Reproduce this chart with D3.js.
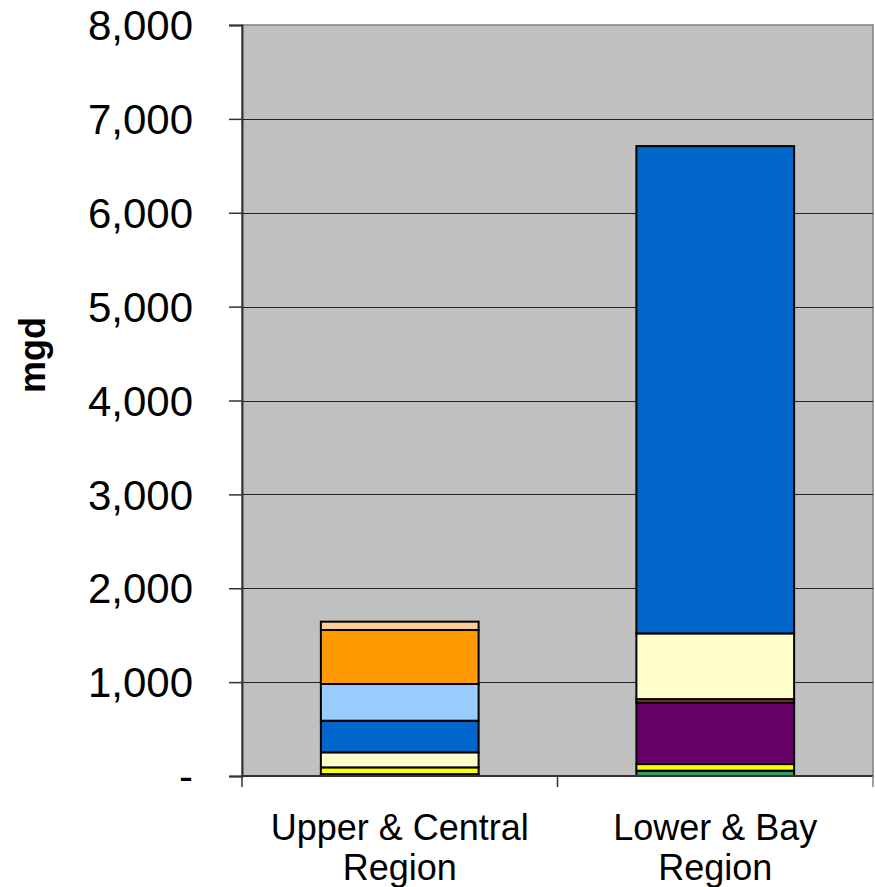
<!DOCTYPE html>
<html>
<head>
<meta charset="utf-8">
<script src="https://cdn.jsdelivr.net/npm/d3@7"></script>
<style>
  html, body { margin: 0; padding: 0; background: #fff; }
  svg { display: block; font-family: "Liberation Sans", Arial, sans-serif; }
</style>
</head>
<body>
<div id="chart"></div>
<script>
// categories (two lines per label)
const categories = ["Upper & Central Region", "Lower & Bay Region"];
const categoryLines = [["Upper & Central", "Region"], ["Lower & Bay", "Region"]];

// stacked series, bottom to top
const seriesNames = ["Series 1", "Series 2", "Series 3", "Series 4", "Series 5",
                     "Series 6", "Series 7", "Series 8", "Series 9"];
const seriesColors = ["#339966", "#ffff00", "#660066", "#993333", "#ffffcc",
                      "#0066cc", "#99ccff", "#ff9900", "#ffcc99"];
const upperValues = [20, 72, 0, 0, 160, 337, 391, 575, 89];
const lowerValues = [57, 70, 653, 39, 700, 5191, 0, 0, 0];

const yTicks = [0, 1000, 2000, 3000, 4000, 5000, 6000, 7000, 8000];

const width = 875, height = 887;
const margin = {top: 25, right: 2, bottom: 111, left: 242};
const innerW = width - margin.left - margin.right,
      innerH = height - margin.top - margin.bottom;

// build table for d3.stack
const table = categories.map((c, i) => {
    const row = {category: c};
    const vals = i === 0 ? upperValues : lowerValues;
    seriesNames.forEach((s, j) => row[s] = vals[j]);
    return row;
});
const stacked = d3.stack().keys(seriesNames)(table);

const svg = d3.select("#chart").append("svg")
    .attr("width", width)
    .attr("height", height);

const g = svg.append("g")
    .attr("transform", `translate(${margin.left}, ${margin.top})`);

const x = d3.scaleBand()
    .domain(categories)
    .range([0, innerW])
    .paddingInner(0.5)
    .paddingOuter(0.25);

const y = d3.scaleLinear()
    .domain([0, 8000])
    .range([innerH, 0]);

// plot background
g.append("rect")
    .attr("width", innerW)
    .attr("height", innerH)
    .attr("fill", "#c0c0c0")
    .attr("stroke", "#808080")
    .attr("stroke-width", 1.5);

// gridlines
g.append("g")
    .selectAll("line")
    .data(yTicks.filter(d => d > 0 && d < 8000))
    .enter().append("line")
    .attr("x1", 0)
    .attr("x2", innerW)
    .attr("y1", d => Math.round(y(d)) + 0.5)
    .attr("y2", d => Math.round(y(d)) + 0.5)
    .attr("stroke", "#222")
    .attr("stroke-width", 1);

// bars
g.append("g")
    .selectAll("g")
    .data(stacked)
    .enter().append("g")
    .attr("fill", (d, i) => seriesColors[i])
    .selectAll("rect")
    .data(d => d.filter(p => p[1] - p[0] > 0))
    .enter().append("rect")
    .attr("x", d => x(d.data.category))
    .attr("width", x.bandwidth())
    .attr("y", d => y(d[1]))
    .attr("height", d => y(d[0]) - y(d[1]))
    .attr("stroke", "#000")
    .attr("stroke-width", 2);

// y axis
const yAxis = g.append("g")
    .call(d3.axisLeft(y)
        .tickValues(yTicks)
        .tickSize(13)
        .tickPadding(36)
        .tickFormat(d => d === 0 ? "-" : d3.format(",")(d)));
yAxis.select(".domain").attr("stroke", "#333").attr("stroke-width", 2);
yAxis.selectAll(".tick line").attr("stroke", "#333").attr("stroke-width", 1.5);
yAxis.selectAll("text")
    .attr("font-size", 42)
    .attr("fill", "#000")
    .attr("dy", "0.35em")
    .attr("font-family", "'Liberation Sans', Arial, sans-serif");

// x axis line and ticks at category boundaries
g.append("line")
    .attr("x1", 0).attr("x2", innerW)
    .attr("y1", innerH).attr("y2", innerH)
    .attr("stroke", "#333").attr("stroke-width", 2);
const step = x.step();
g.append("g")
    .selectAll("line")
    .data([0, 1, 2])
    .enter().append("line")
    .attr("x1", d => x(categories[0]) - step * 0.25 + d * step)
    .attr("x2", d => x(categories[0]) - step * 0.25 + d * step)
    .attr("y1", innerH)
    .attr("y2", innerH + 11)
    .attr("stroke", (d) => d === 2 ? "#808080" : "#333")
    .attr("stroke-width", 1.5);

// category labels
categories.forEach((c, i) => {
    const t = g.append("text")
        .attr("text-anchor", "middle")
        .attr("font-size", 36)
        .attr("fill", "#000")
        .attr("x", x(c) + x.bandwidth() / 2)
        .attr("y", innerH + 64);
    categoryLines[i].forEach((line, k) => {
        t.append("tspan")
            .attr("x", x(c) + x.bandwidth() / 2)
            .attr("dy", k === 0 ? 0 : 40)
            .text(line);
    });
});

// y axis title
svg.append("text")
    .attr("transform", "translate(45, 355) rotate(-90)")
    .attr("text-anchor", "middle")
    .attr("font-size", 36)
    .attr("font-weight", "bold")
    .attr("fill", "#000")
    .text("mgd");
</script>
</body>
</html>
